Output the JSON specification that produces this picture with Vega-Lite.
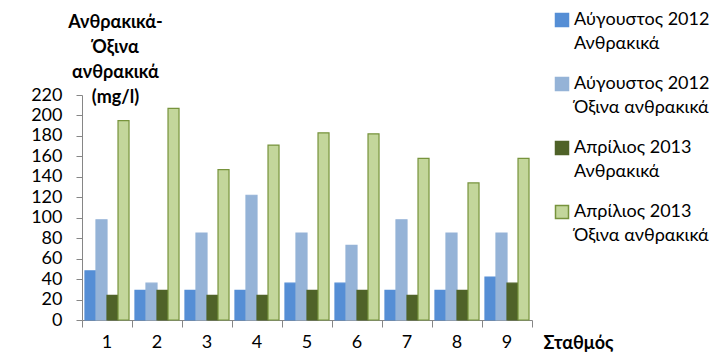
{
  "$schema": "https://vega.github.io/schema/vega-lite/v6.json",
  "width": 450,
  "height": 225,
  "autosize": {"type": "none"},
  "padding": {"left": 82, "top": 95, "right": 194, "bottom": 39},
  "background": "white",
  "config": {"view": {"stroke": null}, "font": "Lato"},
  "data": {
    "values": [
      {"station": "1", "series": "Αύγουστος 2012 Ανθρακικά", "value": 48},
      {"station": "1", "series": "Αύγουστος 2012 Όξινα ανθρακικά", "value": 98},
      {"station": "1", "series": "Απρίλιος 2013 Ανθρακικά", "value": 24},
      {"station": "1", "series": "Απρίλιος 2013 Όξινα ανθρακικά", "value": 195},
      {"station": "2", "series": "Αύγουστος 2012 Ανθρακικά", "value": 29},
      {"station": "2", "series": "Αύγουστος 2012 Όξινα ανθρακικά", "value": 36},
      {"station": "2", "series": "Απρίλιος 2013 Ανθρακικά", "value": 29},
      {"station": "2", "series": "Απρίλιος 2013 Όξινα ανθρακικά", "value": 207},
      {"station": "3", "series": "Αύγουστος 2012 Ανθρακικά", "value": 29},
      {"station": "3", "series": "Αύγουστος 2012 Όξινα ανθρακικά", "value": 85},
      {"station": "3", "series": "Απρίλιος 2013 Ανθρακικά", "value": 24},
      {"station": "3", "series": "Απρίλιος 2013 Όξινα ανθρακικά", "value": 147},
      {"station": "4", "series": "Αύγουστος 2012 Ανθρακικά", "value": 29},
      {"station": "4", "series": "Αύγουστος 2012 Όξινα ανθρακικά", "value": 122},
      {"station": "4", "series": "Απρίλιος 2013 Ανθρακικά", "value": 24},
      {"station": "4", "series": "Απρίλιος 2013 Όξινα ανθρακικά", "value": 171},
      {"station": "5", "series": "Αύγουστος 2012 Ανθρακικά", "value": 36},
      {"station": "5", "series": "Αύγουστος 2012 Όξινα ανθρακικά", "value": 85},
      {"station": "5", "series": "Απρίλιος 2013 Ανθρακικά", "value": 29},
      {"station": "5", "series": "Απρίλιος 2013 Όξινα ανθρακικά", "value": 183},
      {"station": "6", "series": "Αύγουστος 2012 Ανθρακικά", "value": 36},
      {"station": "6", "series": "Αύγουστος 2012 Όξινα ανθρακικά", "value": 73},
      {"station": "6", "series": "Απρίλιος 2013 Ανθρακικά", "value": 29},
      {"station": "6", "series": "Απρίλιος 2013 Όξινα ανθρακικά", "value": 182},
      {"station": "7", "series": "Αύγουστος 2012 Ανθρακικά", "value": 29},
      {"station": "7", "series": "Αύγουστος 2012 Όξινα ανθρακικά", "value": 98},
      {"station": "7", "series": "Απρίλιος 2013 Ανθρακικά", "value": 24},
      {"station": "7", "series": "Απρίλιος 2013 Όξινα ανθρακικά", "value": 158},
      {"station": "8", "series": "Αύγουστος 2012 Ανθρακικά", "value": 29},
      {"station": "8", "series": "Αύγουστος 2012 Όξινα ανθρακικά", "value": 85},
      {"station": "8", "series": "Απρίλιος 2013 Ανθρακικά", "value": 29},
      {"station": "8", "series": "Απρίλιος 2013 Όξινα ανθρακικά", "value": 134},
      {"station": "9", "series": "Αύγουστος 2012 Ανθρακικά", "value": 42},
      {"station": "9", "series": "Αύγουστος 2012 Όξινα ανθρακικά", "value": 85},
      {"station": "9", "series": "Απρίλιος 2013 Ανθρακικά", "value": 36},
      {"station": "9", "series": "Απρίλιος 2013 Όξινα ανθρακικά", "value": 158}
    ]
  },
  "mark": {"type": "bar", "strokeWidth": 1.2},
  "encoding": {
    "x": {
      "field": "station",
      "type": "ordinal",
      "scale": {"paddingInner": 0, "paddingOuter": 0},
      "axis": {
        "title": "Σταθμός",
        "titleFontWeight": "bold",
        "titleFontSize": 18,
        "titleColor": "black",
        "titleX": 461,
        "titleY": 23,
        "titleAlign": "left",
        "titleBaseline": "middle",
        "labelAngle": 0,
        "labelFontSize": 18,
        "labelColor": "black",
        "labelPadding": 6,
        "domainColor": "#868686",
        "tickColor": "#868686",
        "tickSize": 7,
        "bandPosition": 1,
        "tickExtra": true,
        "grid": false
      }
    },
    "xOffset": {
      "field": "series",
      "sort": ["Αύγουστος 2012 Ανθρακικά", "Αύγουστος 2012 Όξινα ανθρακικά", "Απρίλιος 2013 Ανθρακικά", "Απρίλιος 2013 Όξινα ανθρακικά"],
      "scale": {"paddingInner": 0, "paddingOuter": 0.27}
    },
    "y": {
      "field": "value",
      "type": "quantitative",
      "scale": {"domain": [0, 220], "nice": false},
      "axis": {
        "values": [0, 20, 40, 60, 80, 100, 120, 140, 160, 180, 200, 220],
        "title": ["Ανθρακικά-", "Όξινα", "ανθρακικά", "(mg/l)"],
        "titleAngle": 0,
        "titleX": 33,
        "titleY": -82,
        "titleAlign": "center",
        "titleBaseline": "top",
        "titleLineHeight": 25,
        "titleFontSize": 18,
        "titleFontWeight": "bold",
        "titleColor": "black",
        "labelFontSize": 18,
        "labelColor": "black",
        "tickSize": 6,
        "labelPadding": 14,
        "domainColor": "#868686",
        "tickColor": "#868686",
        "grid": false
      }
    },
    "color": {
      "field": "series",
      "type": "nominal",
      "scale": {
        "domain": ["Αύγουστος 2012 Ανθρακικά", "Αύγουστος 2012 Όξινα ανθρακικά", "Απρίλιος 2013 Ανθρακικά", "Απρίλιος 2013 Όξινα ανθρακικά"],
        "range": ["#558ED5", "#95B3D7", "#4F6228", "#C3D69B"]
      },
      "legend": {
        "orient": "none",
        "legendX": 471,
        "legendY": -84,
        "title": null,
        "symbolType": "square",
        "symbolSize": 169,
        "labelFontSize": 18,
        "labelColor": "black",
        "labelLimit": 300,
        "labelOffset": 3,
        "rowPadding": 21,
        "labelExpr": "[slice(datum.label, 0, indexof(datum.label, '201') + 4), slice(datum.label, indexof(datum.label, '201') + 5)]",
        "encode": {"labels": {"update": {"lineHeight": {"value": 24}}}}
      }
    },
    "stroke": {
      "field": "series",
      "type": "nominal",
      "scale": {
        "domain": ["Αύγουστος 2012 Ανθρακικά", "Αύγουστος 2012 Όξινα ανθρακικά", "Απρίλιος 2013 Ανθρακικά", "Απρίλιος 2013 Όξινα ανθρακικά"],
        "range": ["#558ED5", "#95B3D7", "#4F6228", "#77933C"]
      },
      "legend": {
        "orient": "none",
        "legendX": 471,
        "legendY": -84,
        "title": null,
        "symbolType": "square",
        "symbolSize": 169,
        "labelFontSize": 18,
        "labelColor": "black",
        "labelLimit": 300,
        "labelOffset": 3,
        "rowPadding": 21,
        "labelExpr": "[slice(datum.label, 0, indexof(datum.label, '201') + 4), slice(datum.label, indexof(datum.label, '201') + 5)]",
        "encode": {"labels": {"update": {"lineHeight": {"value": 24}}}}
      }
    }
  }
}
